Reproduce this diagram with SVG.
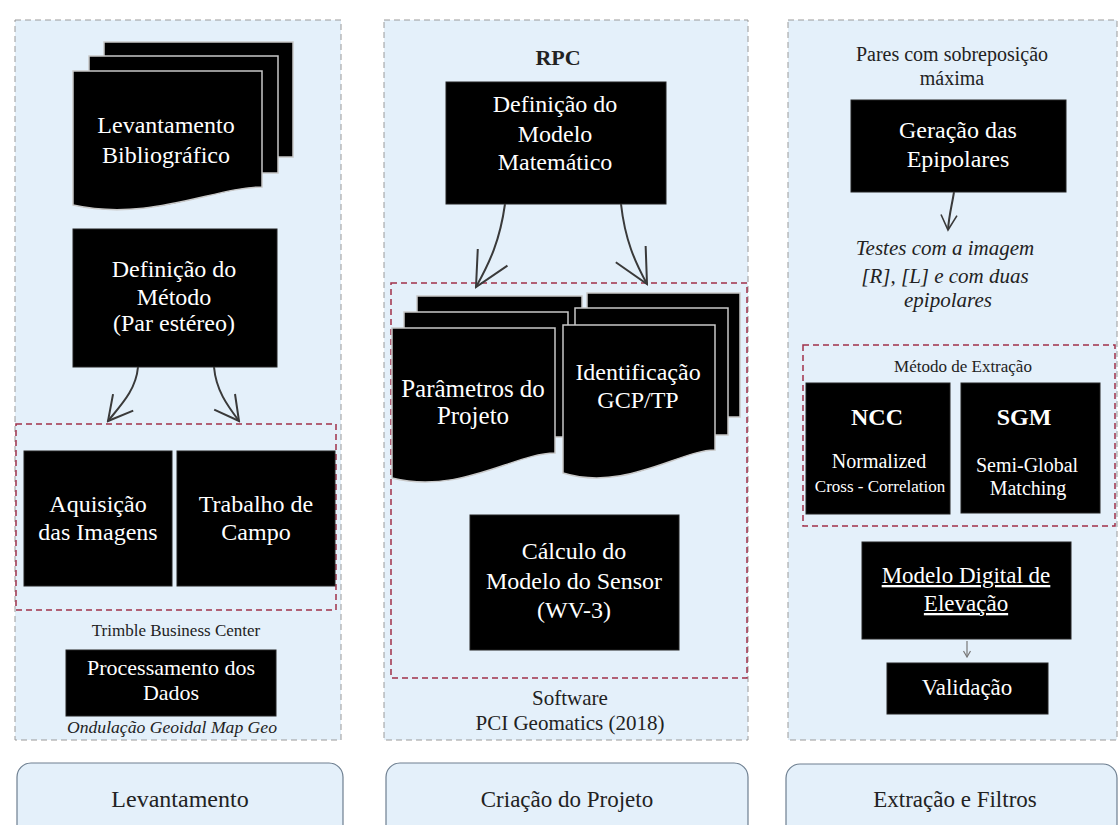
<svg xmlns="http://www.w3.org/2000/svg" width="1120" height="825" viewBox="0 0 1120 825">
<defs>
<style>
.panel{fill:#e4f0fa;stroke:#9a9a9a;stroke-width:1;stroke-dasharray:6 4}
.red{fill:none;stroke:#a0304a;stroke-width:1.5;stroke-dasharray:6 4}
.blk{fill:#000;stroke:#222;stroke-width:1}
.sheet{fill:#000;stroke:#c8c8c8;stroke-width:1.5}
.lbl{fill:#e4f0fa;stroke:#6e7f90;stroke-width:1.2}
.w{font-family:"Liberation Serif","Times New Roman",serif;fill:#fff;text-anchor:middle}
.k{font-family:"Liberation Serif","Times New Roman",serif;fill:#222;text-anchor:middle}
.it{font-style:italic}
.b{font-weight:bold}
.conn{fill:none;stroke:#3a3a3a;stroke-width:2}
</style>
<marker id="ah" markerUnits="userSpaceOnUse" markerWidth="30" markerHeight="30" viewBox="-28 -15 30 30" refX="0" refY="0" orient="auto">
<path d="M-24,-13 L0,0 L-24,13" fill="none" stroke="#3a3a3a" stroke-width="2"/>
</marker>
<marker id="ahL" markerUnits="userSpaceOnUse" markerWidth="40" markerHeight="40" viewBox="-38 -20 40 40" refX="0" refY="0" orient="auto">
<path d="M-34,-17 L0,0 L-34,17" fill="none" stroke="#3a3a3a" stroke-width="2"/>
</marker>
<marker id="ahS" markerUnits="userSpaceOnUse" markerWidth="20" markerHeight="20" viewBox="-18 -10 20 20" refX="0" refY="0" orient="auto">
<path d="M-15,-8 L0,0 L-15,8" fill="none" stroke="#3a3a3a" stroke-width="1.6"/>
</marker>
<marker id="ahT" markerUnits="userSpaceOnUse" markerWidth="10" markerHeight="10" viewBox="-9 -5 10 10" refX="0" refY="0" orient="auto">
<path d="M-6,-3.5 L0,0 L-6,3.5" fill="none" stroke="#777" stroke-width="1.2"/>
</marker>
</defs>
<rect x="0" y="0" width="1120" height="825" fill="#fff"/>

<!-- panels -->
<g id="panel-levantamento">
<rect class="panel" x="15" y="20" width="326" height="720"/>
<rect class="red" x="16" y="424" width="320" height="186"/>
</g>
<g id="panel-criacao">
<rect class="panel" x="384" y="20" width="364" height="720"/>
<rect class="red" x="391" y="283" width="356" height="395"/>
</g>
<g id="panel-extracao">
<rect class="panel" x="788" y="20" width="329" height="720"/>
<rect class="red" x="803" y="345" width="312" height="181"/>
</g>

<!-- panel 1 nodes -->
<g id="levantamento-bibliografico">
<rect class="sheet" x="104" y="42" width="189" height="115"/>
<rect class="sheet" x="89" y="56" width="189" height="117"/>
<path class="sheet" d="M73,71 H262 V187 C215,187 150,222 73,205 Z"/>
<text class="w" font-size="24" x="166" y="133">Levantamento</text>
<text class="w" font-size="24" x="166" y="163">Bibliográfico</text>
</g>
<g id="definicao-metodo">
<rect class="blk" x="73" y="229" width="204" height="138"/>
<text class="w" font-size="24" x="174" y="277">Definição do</text>
<text class="w" font-size="24" x="174" y="305">Método</text>
<text class="w" font-size="24" x="174" y="331">(Par estéreo)</text>
</g>
<g id="aquisicao">
<rect class="blk" x="24" y="451" width="148" height="135"/>
<text class="w" font-size="24" x="98" y="512">Aquisição</text>
<text class="w" font-size="24" x="98" y="540">das Imagens</text>
</g>
<g id="trabalho-campo">
<rect class="blk" x="177" y="451" width="158" height="135"/>
<text class="w" font-size="24" x="256" y="512">Trabalho de</text>
<text class="w" font-size="24" x="256" y="540">Campo</text>
</g>
<g id="trimble-label">
<text class="k" font-size="17" x="176" y="636">Trimble Business Center</text>
</g>
<g id="processamento">
<rect class="blk" x="66" y="650" width="210" height="66"/>
<text class="w" font-size="22" x="171" y="675">Processamento dos</text>
<text class="w" font-size="22" x="171" y="700">Dados</text>
</g>
<g id="ondulacao-label">
<text class="k it" font-size="17" x="172" y="733" textLength="210" lengthAdjust="spacingAndGlyphs">Ondulação Geoidal Map Geo</text>
</g>
<g id="label-levantamento">
<rect class="lbl" x="17" y="763" width="326" height="90" rx="14"/>
<text class="k" font-size="24" x="180" y="807">Levantamento</text>
</g>

<!-- panel 2 nodes -->
<g id="rpc-label">
<text class="k b" font-size="22" x="558" y="65">RPC</text>
</g>
<g id="definicao-modelo">
<rect class="blk" x="446" y="82" width="220" height="122"/>
<text class="w" font-size="24" x="555" y="112">Definição do</text>
<text class="w" font-size="24" x="555" y="142">Modelo</text>
<text class="w" font-size="24" x="555" y="170">Matemático</text>
</g>
<g id="parametros-projeto">
<rect class="sheet" x="417" y="296" width="165" height="124"/>
<rect class="sheet" x="404" y="312" width="164" height="125"/>
<path class="sheet" d="M392,328 H555 V453 C515,453 460,495 392,478 Z"/>
<text class="w" font-size="25" x="473" y="397">Parâmetros do</text>
<text class="w" font-size="25" x="473" y="424">Projeto</text>
</g>
<g id="identificacao-gcp">
<rect class="sheet" x="587" y="293" width="153" height="124"/>
<rect class="sheet" x="575" y="308" width="153" height="127"/>
<path class="sheet" d="M563,325 H715 V450 C680,450 625,492 563,473 Z"/>
<text class="w" font-size="24" x="638" y="380">Identificação</text>
<text class="w" font-size="24" x="638" y="408">GCP/TP</text>
</g>
<g id="calculo-modelo">
<rect class="blk" x="470" y="515" width="209" height="135"/>
<text class="w" font-size="24" x="574" y="559">Cálculo do</text>
<text class="w" font-size="24" x="574" y="589">Modelo do Sensor</text>
<text class="w" font-size="24" x="574" y="618">(WV-3)</text>
</g>
<g id="software-label">
<text class="k" font-size="21" x="570" y="705">Software</text>
<text class="k" font-size="21" x="570" y="730">PCI Geomatics (2018)</text>
</g>
<g id="label-criacao">
<rect class="lbl" x="386" y="763" width="362" height="90" rx="14"/>
<text class="k" font-size="23" x="567" y="807">Criação do Projeto</text>
</g>

<!-- panel 3 nodes -->
<g id="pares-label">
<text class="k" font-size="20" x="952" y="61">Pares com sobreposição</text>
<text class="k" font-size="20" x="952" y="85">máxima</text>
</g>
<g id="geracao-epipolares">
<rect class="blk" x="851" y="100" width="215" height="92"/>
<text class="w" font-size="24" x="958" y="138">Geração das</text>
<text class="w" font-size="24" x="958" y="167">Epipolares</text>
</g>
<g id="testes-label">
<text class="k it" font-size="21" x="945" y="255">Testes com a imagem</text>
<text class="k it" font-size="21" x="945" y="283">[R], [L] e com duas</text>
<text class="k it" font-size="21" x="948" y="307">epipolares</text>
</g>
<g id="metodo-extracao-label">
<text class="k" font-size="17" x="963" y="372">Método de Extração</text>
</g>
<g id="ncc">
<rect class="blk" x="806" y="383" width="144" height="131"/>
<text class="w b" font-size="24" x="877" y="425">NCC</text>
<text class="w" font-size="20" x="879" y="468">Normalized</text>
<text class="w" font-size="17" x="880" y="492">Cross - Correlation</text>
</g>
<g id="sgm">
<rect class="blk" x="961" y="383" width="139" height="130"/>
<text class="w b" font-size="24" x="1024" y="425">SGM</text>
<text class="w" font-size="20" x="1027" y="472">Semi-Global</text>
<text class="w" font-size="20" x="1028" y="495">Matching</text>
</g>
<g id="modelo-digital">
<rect class="blk" x="862" y="542" width="209" height="97"/>
<text class="w" font-size="23" x="966" y="583" text-decoration="underline">Modelo Digital de</text>
<text class="w" font-size="23" x="966" y="611" text-decoration="underline">Elevação</text>
</g>
<g id="validacao">
<rect class="blk" x="887" y="663" width="161" height="51"/>
<text class="w" font-size="23" x="967" y="695">Validação</text>
</g>
<g id="label-extracao">
<rect class="lbl" x="786" y="764" width="331" height="90" rx="14"/>
<text class="k" font-size="23" x="955" y="807">Extração e Filtros</text>
</g>

<!-- connectors -->
<g id="connectors">
<path class="conn" d="M138,367 C136,390 121,405 108,421" marker-end="url(#ah)"/>
<path class="conn" d="M214,367 C216,390 227,405 239,421" marker-end="url(#ah)"/>
<path class="conn" d="M505,204 C500,240 490,262 476,287" marker-end="url(#ahL)"/>
<path class="conn" d="M621,204 C625,240 635,262 647,284" marker-end="url(#ahL)"/>
<path class="conn" d="M954,192 C952,205 949,215 948,230" marker-end="url(#ahS)"/>
<path d="M967,641 L967,657" fill="none" stroke="#777" stroke-width="1.2" marker-end="url(#ahT)"/>
</g>
</svg>
